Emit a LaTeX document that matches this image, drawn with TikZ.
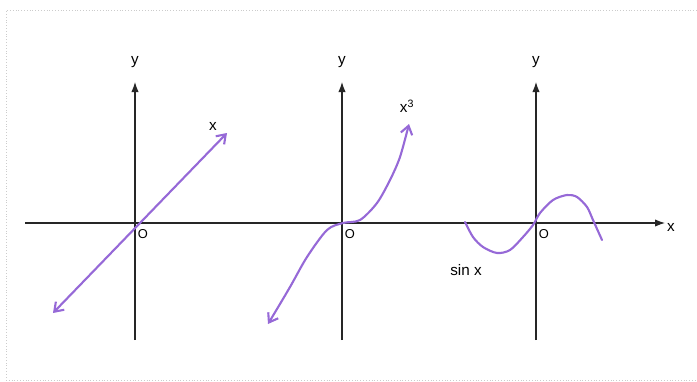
\documentclass[tikz,border=0pt]{standalone}
\usepackage{fontspec}
\setmainfont{Liberation Sans}
\usetikzlibrary{arrows.meta}

\definecolor{penpurple}{RGB}{150,105,215}

\begin{document}
\begin{tikzpicture}[
  x=0.03cm, y=-0.03cm,
  axis/.style={line width=0.9pt, black!85, -{Latex[length=3mm, width=2.2mm]}},
  pen/.style={line width=1.8pt, draw=penpurple, line cap=round},
  twotips/.style={{Straight Barb[length=2.5mm, width=3.5mm]}-{Straight Barb[length=2.5mm, width=3.5mm]}},
  lbl/.style={font=\fontsize{13}{15}\selectfont, inner sep=1pt},
]
  \useasboundingbox (0,0) rectangle (697,381);
  \draw[black!20, dotted] (6,380) -- (6,10) -- (697,10);
  \draw[black!20, dotted] (6,380) -- (697,380);

  % x axis
  \coordinate (xleft) at (25,223);
  \coordinate (xright) at (665,223);
  \draw[axis] (xleft) -- (xright);
  \node[lbl] (xlab) at (671,227) {x};

  % three y axes
  \foreach \name/\xpos in {lin/135, cub/342, sin/536} {
    \coordinate (\name bot) at (\xpos,340);
    \coordinate (\name top) at (\xpos,82);
    \draw[axis] (\name bot) -- (\name top);
    \node[lbl] (\name y) at (\xpos,62) {y};
    \node[lbl, font=\fontsize{11}{13}\selectfont] (\name o) at ({\xpos+8},234) {O};
  }

  % y = x
  \coordinate (linstart) at (53,313);
  \coordinate (linend) at (227,133);
  \draw[pen, twotips] (linstart) -- (linend);
  \node[lbl] (linlab) at (213,126) {x};

  % y = x^3
  \draw[pen, twotips] plot[smooth] coordinates {(268,324) (290,287) (307,257) (327,230)
    (343,223) (360,220) (377,203) (390,180) (400,157) (409,124)};
  \node[lbl] (cublab) at (407,106) {x\textsuperscript{3}};

  % y = sin x
  \draw[pen] plot[smooth] coordinates {(465,222) (473,237) (483,247) (497,253) (510,250)
    (523,237) (533,225) (540,213) (553,200) (567,195) (577,197) (587,207) (593,220) (602,240)};
  \node[lbl] (sinlab) at (466,270) {sin x};
\end{tikzpicture}
\end{document}
